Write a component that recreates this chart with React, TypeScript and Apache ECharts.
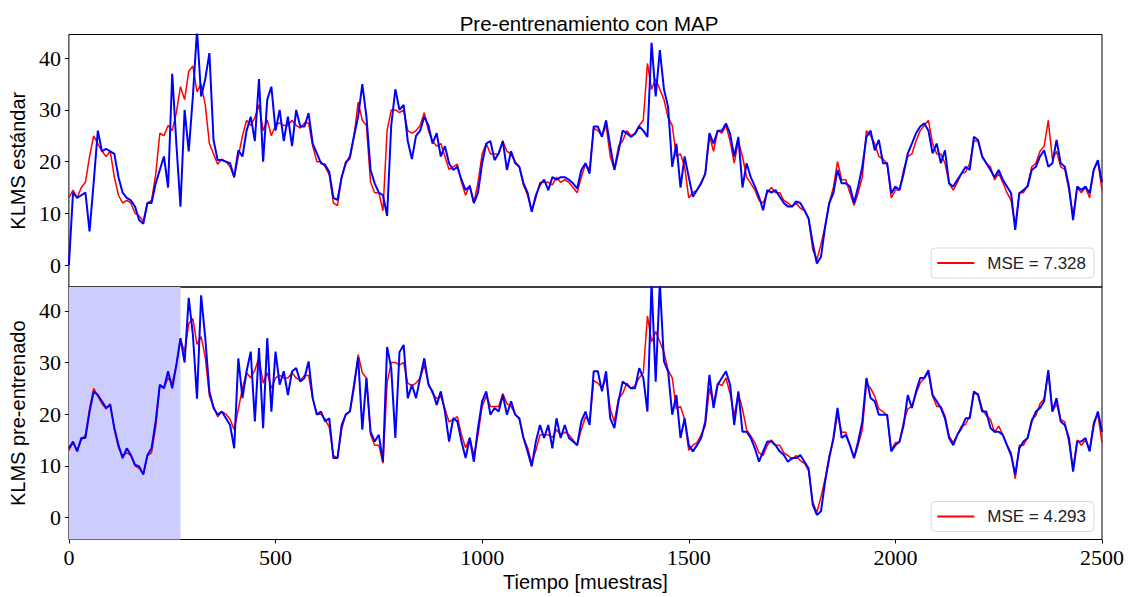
import React, { useEffect, useRef } from "react";
import * as echarts from "echarts";

const STEP = 10;

// target signal (red), read every 10 samples, 0..2500
const target = [
  13, 14.5, 13, 15, 16, 21, 25, 23.5, 22, 21,
  22, 17, 13.5, 12, 12.5, 12, 10, 9.5, 8.5, 12,
  12.5, 17.5, 25.5, 25, 27, 26, 29.5, 34.5, 32, 37.5,
  38.5, 33.5, 35, 31, 23.5, 21.5, 19.5, 20.5, 20, 19,
  17, 21, 25, 28, 27, 28.5, 31, 26, 28, 25,
  27, 27.5, 27, 27, 28, 27, 26.5, 27.5, 27.5, 23,
  20, 20, 19, 17.5, 12, 11.5, 17, 20, 20.5, 25,
  31.5, 28, 27, 16, 14, 14, 10.5, 26, 30, 30,
  29.5, 30, 26, 25.5, 26, 27, 29.5, 26, 24, 23,
  23.5, 21, 18.5, 19, 19.5, 16, 13.5, 15.5, 12, 16,
  21.5, 23.5, 21.5, 21.5, 21.5, 24, 22, 21.5, 20, 19,
  15.5, 13.5, 10.5, 13, 16, 16, 16, 15.5, 17, 16,
  16.5, 16, 15, 14, 17, 19.5, 18.5, 26.5, 26, 25,
  27, 21, 18.5, 23, 24, 26, 25, 25.5, 27, 28,
  39, 34, 36, 34, 32, 28.5, 27, 21, 21.5, 19,
  13, 14, 14.5, 16, 17.7, 25, 22, 26, 25.5, 27,
  24, 19.7, 24, 21, 17, 15.8, 14.5, 12.5, 12, 14,
  15, 14, 14, 12.5, 12, 11.3, 12, 11, 10.5, 9,
  3, 1, 4, 7.5, 12, 15, 20, 16.5, 16.5, 14,
  11.5, 14, 17, 26, 25, 23.5, 21, 20.5, 19.7, 13,
  14.5, 14.5, 18.5, 21, 21.5, 24, 26, 27, 28, 23.5,
  21.5, 21.5, 19.7, 15.8, 14.5, 16, 17.7, 18, 19.7, 24,
  24, 21, 19.7, 19, 16.5, 17.7, 16, 14, 12.5, 7.5,
  14, 14, 15.5, 19, 19.7, 22, 23, 28, 20.5, 22,
  19, 18.5, 14.5, 9.5, 15, 14, 15, 13, 18.5, 20,
  14.5,
];

// standard KLMS prediction (blue, top panel)
const predStd = [
  0, 14, 13, 13.5, 14, 6.5, 16, 26, 22, 22.5,
  22, 21.5, 17, 14, 13, 12.5, 11.3, 8.7, 8, 12,
  12, 15.8, 18.4, 21, 15, 37, 23.5, 11.3, 30, 22,
  32.6, 45.5, 32.6, 36, 41, 24.2, 20.3, 20.3, 20, 19.7,
  17, 22.2, 21, 26, 28.7, 24, 36, 20, 32, 34.5,
  26, 30, 24, 28.7, 23, 30, 26.8, 26.8, 29.4, 23.5,
  21.6, 19.7, 19.4, 18, 13, 12.6, 17, 19.7, 21, 25,
  28.7, 35, 28.7, 18.4, 15.8, 14, 13.5, 9.5, 27, 34,
  30, 31, 24, 20.5, 25, 26, 28.7, 27, 23.5, 25.5,
  21, 23, 19.7, 18.4, 19, 16.5, 14.5, 15.2, 12, 14,
  19.7, 23.5, 24, 20.3, 21.6, 24, 18.4, 22, 19.7, 19,
  15.8, 14, 10.3, 13.5, 15.5, 16.5, 14.5, 17, 16.5, 17,
  17, 16.5, 15.8, 14.8, 18.4, 19.7, 17.7, 26.8, 26.8, 24.8,
  28, 23, 18.4, 22, 26, 25.5, 24.8, 25.4, 26.8, 26,
  24.8, 43, 32.6, 41.6, 34, 30.6, 19, 23.5, 15, 21,
  17, 13.2, 14.5, 15.8, 17.7, 25.5, 23.5, 26, 26, 27.4,
  25.4, 21, 24.8, 15, 19.7, 17, 15.2, 13.2, 10.6, 14.5,
  14, 14.5, 13.2, 12, 11.3, 11.3, 12.3, 12, 10.6, 9,
  4.2, 0.3, 1.6, 7.4, 12, 13.9, 18.4, 15.8, 15.8, 15.2,
  12, 15.2, 19, 24.8, 26, 22.2, 24.2, 19.7, 19.7, 13.9,
  15.2, 14.5, 17.7, 21.6, 23.5, 25.5, 26.8, 27.4, 26, 21.6,
  23.5, 19.7, 22.2, 15.8, 15.2, 16.5, 17.7, 19, 18.4, 24.8,
  24.2, 21, 19.7, 18.4, 17, 18.4, 16.5, 15.2, 13.9, 6.8,
  13.9, 14.5, 15.2, 18.4, 19, 21, 22.2, 19, 19.7, 24.2,
  19.7, 19, 15.2, 8.7, 15.2, 14.5, 15.2, 13.9, 18.4, 20.3,
  16,
];

// pre-trained KLMS prediction (blue, bottom panel)
const predPre = [
  13.4, 14.7, 12.8, 15.4, 15.4, 20.5, 24.4, 23.7, 22.5, 21.2,
  21.8, 17.3, 14, 11.5, 13.4, 12.1, 10.2, 9.9, 8.3, 12.1,
  13.4, 18.6, 25.7, 25, 28.3, 25, 29.5, 34.7, 30, 42.5,
  35.4, 23, 43, 34.7, 24.4, 21.2, 19.9, 20.5, 19.2, 17.9,
  13.4, 30.8, 23.1, 28.3, 32.1, 18.6, 32.8, 17.3, 34.7, 20.5,
  32.1, 25.7, 28.3, 23.7, 28.3, 28.9, 26.3, 27, 30.2, 23.1,
  19.9, 20.5, 18.6, 19.2, 11.5, 11.5, 17.9, 19.9, 20.5, 25.7,
  31, 17, 27, 16.6, 14.7, 16, 10.8, 33, 28.9, 15.4,
  32, 33.4, 23.1, 25.7, 23.1, 27, 30.8, 25.7, 24.4, 21.8,
  24.4, 20.5, 14.7, 19.2, 18.6, 14.7, 11.5, 15.4, 10.8, 17.3,
  22.5, 24.4, 19.9, 21.2, 20.5, 23.7, 19.9, 22.5, 19.9, 19.2,
  15.4, 12.8, 9.9, 14.7, 17.9, 15.4, 17.9, 13.4, 19.2, 15.4,
  17.9, 15.4, 14.7, 14, 18.6, 20.5, 17.9, 28.3, 28.3, 24.4,
  28.3, 19.2, 17.3, 22.5, 26.3, 25.7, 25, 25, 28.9, 27,
  20.5, 45.5, 26.3, 45.5, 30.2, 28.3, 19.9, 23.7, 15.4, 19.2,
  14, 12.8, 14, 15.4, 18.6, 27.6, 21.2, 25.7, 27, 28.3,
  25.7, 17.9, 24.4, 16.6, 16.6, 15.4, 13.4, 10.8, 12.8, 14.7,
  14.7, 14, 12.8, 12.1, 10.8, 11.5, 11.5, 12.1, 10.8, 9.5,
  2.5, 0.5, 1.2, 7, 11.5, 15.4, 21.2, 15.4, 16, 14,
  11.5, 14.7, 18.6, 27, 23.1, 22.5, 19.9, 19.9, 19.9, 12.8,
  14, 14.7, 17.9, 23.7, 21.2, 24.4, 27, 27, 28.5, 23.7,
  22.5, 21.2, 19.2, 15.4, 14, 16, 17.3, 19.2, 19.2, 24.4,
  23.7, 20.5, 20.5, 17.3, 16.6, 16.6, 16, 14, 12.1, 8.3,
  13.4, 14.7, 15.4, 18.6, 20.5, 21.2, 22.5, 28.5, 20.5, 23.1,
  18.6, 17.9, 15.4, 8.9, 14.7, 14.7, 15.4, 12.8, 17.9, 20.5,
  16.6,
];

const xTicks = [0, 500, 1000, 1500, 2000, 2500];
const yTicks = [0, 10, 20, 30, 40];
const X_MIN = 0;
const X_MAX = 2500;
const Y_MIN = -4.25;
const Y_MAX = 44.6;
const shadeRange = [0, 270];

const titleText = "Pre-entrenamiento con MAP";
const yLabels = ["KLMS estándar", "KLMS pre-entrenado"];
const xLabel = "Tiempo [muestras]";
const legendNames = ["MSE = 7.328", "MSE = 4.293"];

export default function App() {
  const ref = useRef<HTMLDivElement>(null);
  useEffect(() => {
    if (!ref.current) return;
    const chart = echarts.init(ref.current, null, { renderer: "svg" });
    const toPts = (arr: number[]) => arr.map((v, i) => [i * STEP, v]);
    const sans = "'Liberation Sans', 'DejaVu Sans', sans-serif";
    const serif = "'Liberation Serif', 'DejaVu Serif', serif";
    const plain = (v: number) => String(v);
    const grids = [
      { left: 66, top: 34.5, width: 1036, height: 252.5 },
      { left: 66, top: 287, width: 1036, height: 252.5 },
    ];
    const option: any = {
      animation: false,
      backgroundColor: "#fff",
      title: {
        text: titleText,
        left: 584,
        top: 8,
        textAlign: "center",
        textStyle: { fontFamily: sans, fontSize: 20.5, fontWeight: "normal", color: "#000" },
      },
      grid: grids.map((g) => ({ ...g, show: true, borderColor: "#000", borderWidth: 1, backgroundColor: "transparent" })),
      xAxis: [0, 1].map((i) => ({
        type: "value",
        gridIndex: i,
        position: "bottom",
        min: X_MIN,
        max: X_MAX,
        interval: 500,
        axisLine: { show: false, onZero: false },
        splitLine: { show: false },
        axisTick: { show: i === 1, length: 4, customValues: xTicks, lineStyle: { color: "#000", width: 1 } },
        axisLabel: {
          show: i === 1,
          customValues: xTicks,
          formatter: plain,
          fontFamily: serif,
          fontSize: 22,
          color: "#000",
          margin: 7,
        },
        name: i === 1 ? xLabel : "",
        nameLocation: "middle",
        nameGap: 32,
        nameTextStyle: { fontFamily: sans, fontSize: 20, color: "#000" },
      })),
      yAxis: [0, 1].map((i) => ({
        type: "value",
        gridIndex: i,
        position: "left",
        min: Y_MIN,
        max: Y_MAX,
        splitNumber: 5,
        axisLine: { show: false, onZero: false },
        splitLine: { show: false },
        axisTick: { show: true, length: 4, customValues: yTicks, lineStyle: { color: "#000", width: 1 } },
        axisLabel: {
          customValues: yTicks,
          formatter: plain,
          fontFamily: serif,
          fontSize: 22,
          color: "#000",
          margin: 8,
        },
        name: yLabels[i],
        nameLocation: "middle",
        nameGap: 38,
        nameRotate: 90,
        nameTextStyle: { fontFamily: sans, fontSize: 20, color: "#000" },
      })),
      legend: legendNames.map((name, i) => ({
        data: [{ name, icon: "rect" }],
        right: 34,
        top: i === 0 ? 248 : 501.5,
        itemWidth: 37,
        itemHeight: 2,
        padding: [5, 8, 5, 6],
        backgroundColor: "#fff",
        borderColor: "#d9d9d9",
        borderWidth: 1,
        borderRadius: 4,
        selectedMode: false,
        textStyle: { fontFamily: sans, fontSize: 17, color: "#222", padding: [0, 0, 0, 8], lineHeight: 20 },
      })),
      series: [
        {
          type: "line",
          name: "shade",
          xAxisIndex: 1,
          yAxisIndex: 1,
          data: [],
          z: 1,
          markArea: {
            silent: true,
            itemStyle: { color: "#ccccff", opacity: 1 },
            data: [[{ xAxis: shadeRange[0] }, { xAxis: shadeRange[1] }]],
          },
        },
        {
          type: "line",
          name: legendNames[0],
          xAxisIndex: 0,
          yAxisIndex: 0,
          data: toPts(target),
          color: "red",
          symbol: "none",
          lineStyle: { width: 1.5, color: "red" },
          z: 2,
        },
        {
          type: "line",
          name: "pred-std",
          xAxisIndex: 0,
          yAxisIndex: 0,
          data: toPts(predStd),
          color: "blue",
          symbol: "none",
          lineStyle: { width: 2, color: "blue" },
          z: 3,
        },
        {
          type: "line",
          name: legendNames[1],
          xAxisIndex: 1,
          yAxisIndex: 1,
          data: toPts(target),
          color: "red",
          symbol: "none",
          lineStyle: { width: 1.5, color: "red" },
          z: 2,
        },
        {
          type: "line",
          name: "pred-pre",
          xAxisIndex: 1,
          yAxisIndex: 1,
          data: toPts(predPre),
          color: "blue",
          symbol: "none",
          lineStyle: { width: 2, color: "blue" },
          z: 3,
        },
      ],
    };
    chart.setOption(option);
    return () => chart.dispose();
  }, []);
  return (
    <div
      ref={ref}
      style={{ position: "absolute", left: 0, top: 0, width: 1128, height: 597 }}
    />
  );
}
